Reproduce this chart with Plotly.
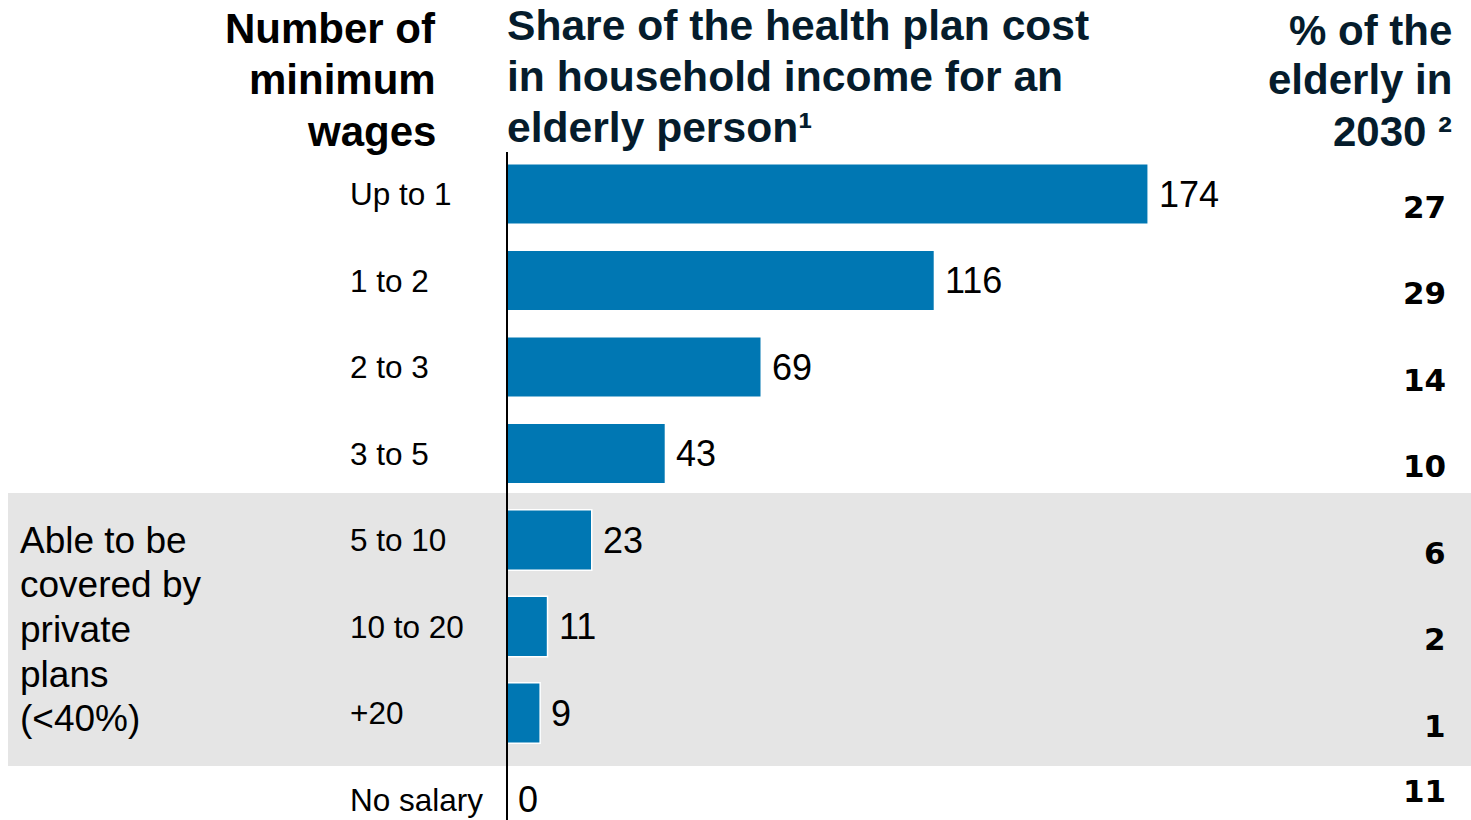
import plotly.graph_objects as go

# Income bands (number of minimum wages), top to bottom
categories = ["Up to 1", "1 to 2", "2 to 3", "3 to 5", "5 to 10", "10 to 20", "+20", "No salary"]
# Share of the health plan cost in household income for an elderly person (%)
cost_share = [174, 116, 69, 43, 23, 11, 9, 0]
# Share of the elderly population in 2030 (%)
elderly_2030 = [27, 29, 14, 10, 6, 2, 1, 11]

W, H = 1471, 820
FONT = "Liberation Sans, Arial, sans-serif"
NAVY = "#051C2C"
BAR = "#0077B3"
BAND = "#E5E5E5"

# x axis: zero sits at the vertical baseline, ~3.685 px per percentage point
PX_PER_UNIT = 3.685
X0_PX = 507
x_range = [-X0_PX / PX_PER_UNIT, (W - X0_PX) / PX_PER_UNIT]

# y axis: one unit per row, row 0 centred ~194 px from the top, 86.5 px per row
ROW_PX, ROW0_PX = 86.5, 194
y_range = [(H - ROW0_PX) / ROW_PX, -ROW0_PX / ROW_PX]


def px_to_x(px):
    return (px - X0_PX) / PX_PER_UNIT


def px_to_y(px):
    return (px - ROW0_PX) / ROW_PX


rows = list(range(len(categories)))

fig = go.Figure()

fig.add_trace(go.Bar(
    x=cost_share,
    y=rows,
    orientation="h",
    width=0.7,
    marker=dict(color=BAR, line=dict(color="white", width=1.5)),
    hoverinfo="skip",
    showlegend=False,
))

# Grey band marking the income brackets that private plans can cover
fig.add_shape(type="rect", xref="x", yref="y",
              x0=px_to_x(8), x1=px_to_x(W + 5),
              y0=px_to_y(493), y1=px_to_y(766),
              fillcolor=BAND, line=dict(width=0), layer="below")

# Vertical baseline at zero
fig.add_shape(type="line", xref="x", yref="y",
              x0=0, x1=0, y0=px_to_y(152), y1=px_to_y(H + 2),
              line=dict(color="black", width=2), layer="above")

annotations = []

for i, (cat, val, pct) in enumerate(zip(categories, cost_share, elderly_2030)):
    # category label
    annotations.append(dict(
        x=px_to_x(348), y=i, xref="x", yref="y", text=cat, showarrow=False,
        xanchor="left", yanchor="middle",
        font=dict(family=FONT, size=31.5, color="black")))
    # bar value
    annotations.append(dict(
        x=val, y=i, xref="x", yref="y", text=str(val), showarrow=False,
        xanchor="left", yanchor="middle", xshift=9,
        font=dict(family=FONT, size=36, color="black")))
    # elderly share column
    annotations.append(dict(
        x=px_to_x(1448), y=min(i + 0.15, 6.9), xref="x", yref="y",
        text=f"<b>{pct}</b>", showarrow=False,
        xanchor="right", yanchor="middle",
        font=dict(family="DejaVu Sans, sans-serif", size=31, color="black")))


def add_lines(lines, x_px, centers_px, anchor, size, color, bold=True):
    for line, cy in zip(lines, centers_px):
        annotations.append(dict(
            x=x_px / W, y=1 - cy / H, xref="paper", yref="paper",
            text=f"<b>{line}</b>" if bold else line, showarrow=False,
            xanchor=anchor, yanchor="middle",
            font=dict(family=FONT, size=size, color=color)))


# Column headers
add_lines(["Number of", "minimum", "wages"], 438, [28, 80, 131], "right", 42, "black")
add_lines(["Share of the health plan cost", "in household income for an", "elderly person¹"],
          505, [25, 76, 127], "left", 42.6, NAVY)
add_lines(["% of the", "elderly in", "2030 ²"], 1454, [30, 80, 131], "right", 42, NAVY)

# Group label inside the grey band
add_lines(["Able to be", "covered by", "private", "plans", "(<40%)"],
          18, [540, 584, 629, 674, 718], "left", 37, "black", bold=False)

fig.update_layout(
    width=W, height=H,
    margin=dict(l=0, r=0, t=0, b=0),
    paper_bgcolor="white", plot_bgcolor="white",
    xaxis=dict(range=x_range, visible=False, fixedrange=True),
    yaxis=dict(range=y_range, visible=False, fixedrange=True),
    annotations=annotations,
    bargap=0.3,
)

fig.write_html("out.html")
